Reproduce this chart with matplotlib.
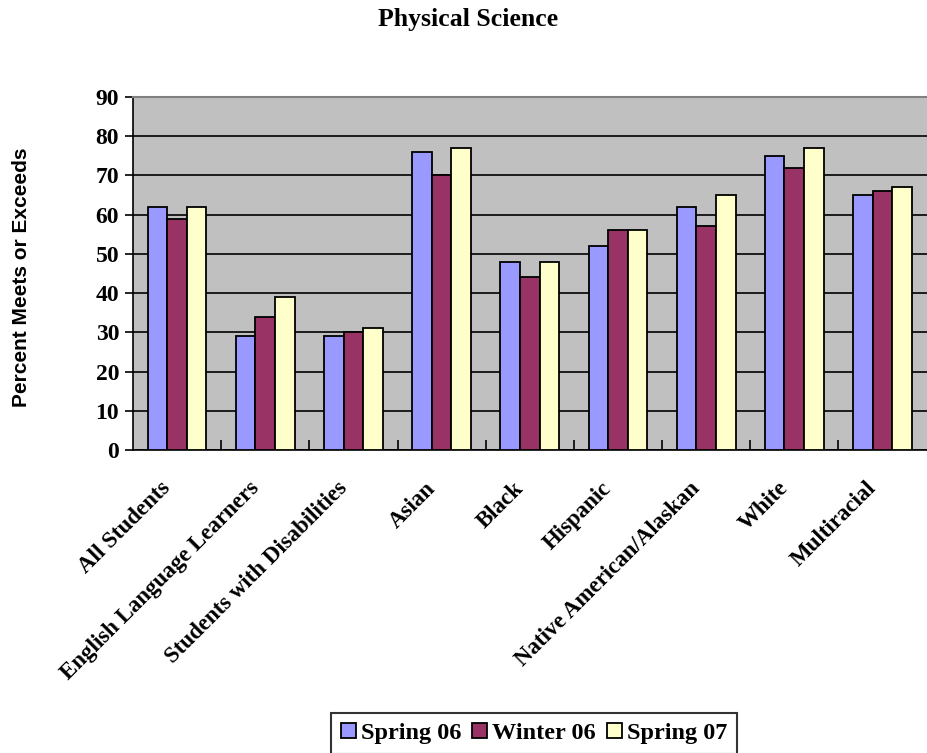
import numpy as np
import matplotlib.pyplot as plt
from matplotlib.ticker import FixedLocator
from matplotlib.transforms import ScaledTranslation

categories = ["All Students", "English Language Learners", "Students with Disabilities",
              "Asian", "Black", "Hispanic", "Native American/Alaskan", "White", "Multiracial"]
spring06 = [62, 29, 29, 76, 48, 52, 62, 75, 65]
winter06 = [59, 34, 30, 70, 44, 56, 57, 72, 66]
spring07 = [62, 39, 31, 77, 48, 56, 65, 77, 67]
series_names = ["Spring 06", "Winter 06", "Spring 07"]
colors = ["#9999FF", "#993366", "#FFFFCC"]

serif = "Liberation Serif"

fig = plt.figure(figsize=(9.27, 7.53), dpi=100)
ax = fig.add_axes([0.1435, 0.4024, 0.856, 0.4688])
ax.set_facecolor("#C0C0C0")

x = np.arange(len(categories))
w = 1 / 4.5
for i, (vals, name, c) in enumerate(zip([spring06, winter06, spring07], series_names, colors)):
    ax.bar(x + (i - 1) * w, vals, w, color=c, edgecolor="black", linewidth=1.3,
           label=name, zorder=3)

ax.set_xlim(-0.5, len(categories) - 0.5)
ax.set_ylim(0, 90)
ax.set_yticks(range(0, 91, 10))
ax.yaxis.grid(True, color="black", linewidth=1.2)
ax.set_axisbelow(True)

ax.spines["right"].set_visible(False)
ax.spines["top"].set_color("#808080")
ax.spines["top"].set_linewidth(1.5)
ax.spines["left"].set_linewidth(1.2)
ax.spines["bottom"].set_linewidth(1.2)

ax.set_yticklabels([str(v) for v in range(0, 91, 10)], fontfamily=serif,
                   fontweight="bold", fontsize=17)
ax.tick_params(axis="y", direction="out", length=6, width=1.2, pad=4)

ax.set_xticks(x)
ax.set_xticklabels(categories, rotation=45, ha="right", va="top",
                   rotation_mode="anchor", fontfamily=serif, fontweight="bold", fontsize=16.5)
ax.tick_params(axis="x", length=0, pad=20)
shift = ScaledTranslation(-17 / 100, 0, fig.dpi_scale_trans)
for lab in ax.get_xticklabels():
    lab.set_transform(lab.get_transform() + shift)
ax.xaxis.set_minor_locator(FixedLocator(np.arange(0.5, len(categories) - 0.5, 1)))
ax.tick_params(axis="x", which="minor", direction="in", length=7, width=1.2)

ax.set_ylabel("Percent Meets or Exceeds", fontfamily="Liberation Sans",
              fontweight="bold", fontsize=15)
ax.yaxis.set_label_coords(-0.129, 0.49)

fig.suptitle("Physical Science", x=0.505, y=0.99, fontfamily=serif,
             fontweight="bold", fontsize=18.5)

leg = fig.legend(loc="upper center", bbox_to_anchor=(0.576, 0.0531), ncol=3,
                 prop={"family": serif, "weight": "bold", "size": 17.5},
                 frameon=True, fancybox=False, edgecolor="black",
                 handlelength=0.62, handleheight=0.62, handletextpad=0.2,
                 columnspacing=0.45, borderpad=0.4, borderaxespad=0)
leg.get_frame().set_linewidth(1.5)

fig.savefig("out.png", dpi=100)
